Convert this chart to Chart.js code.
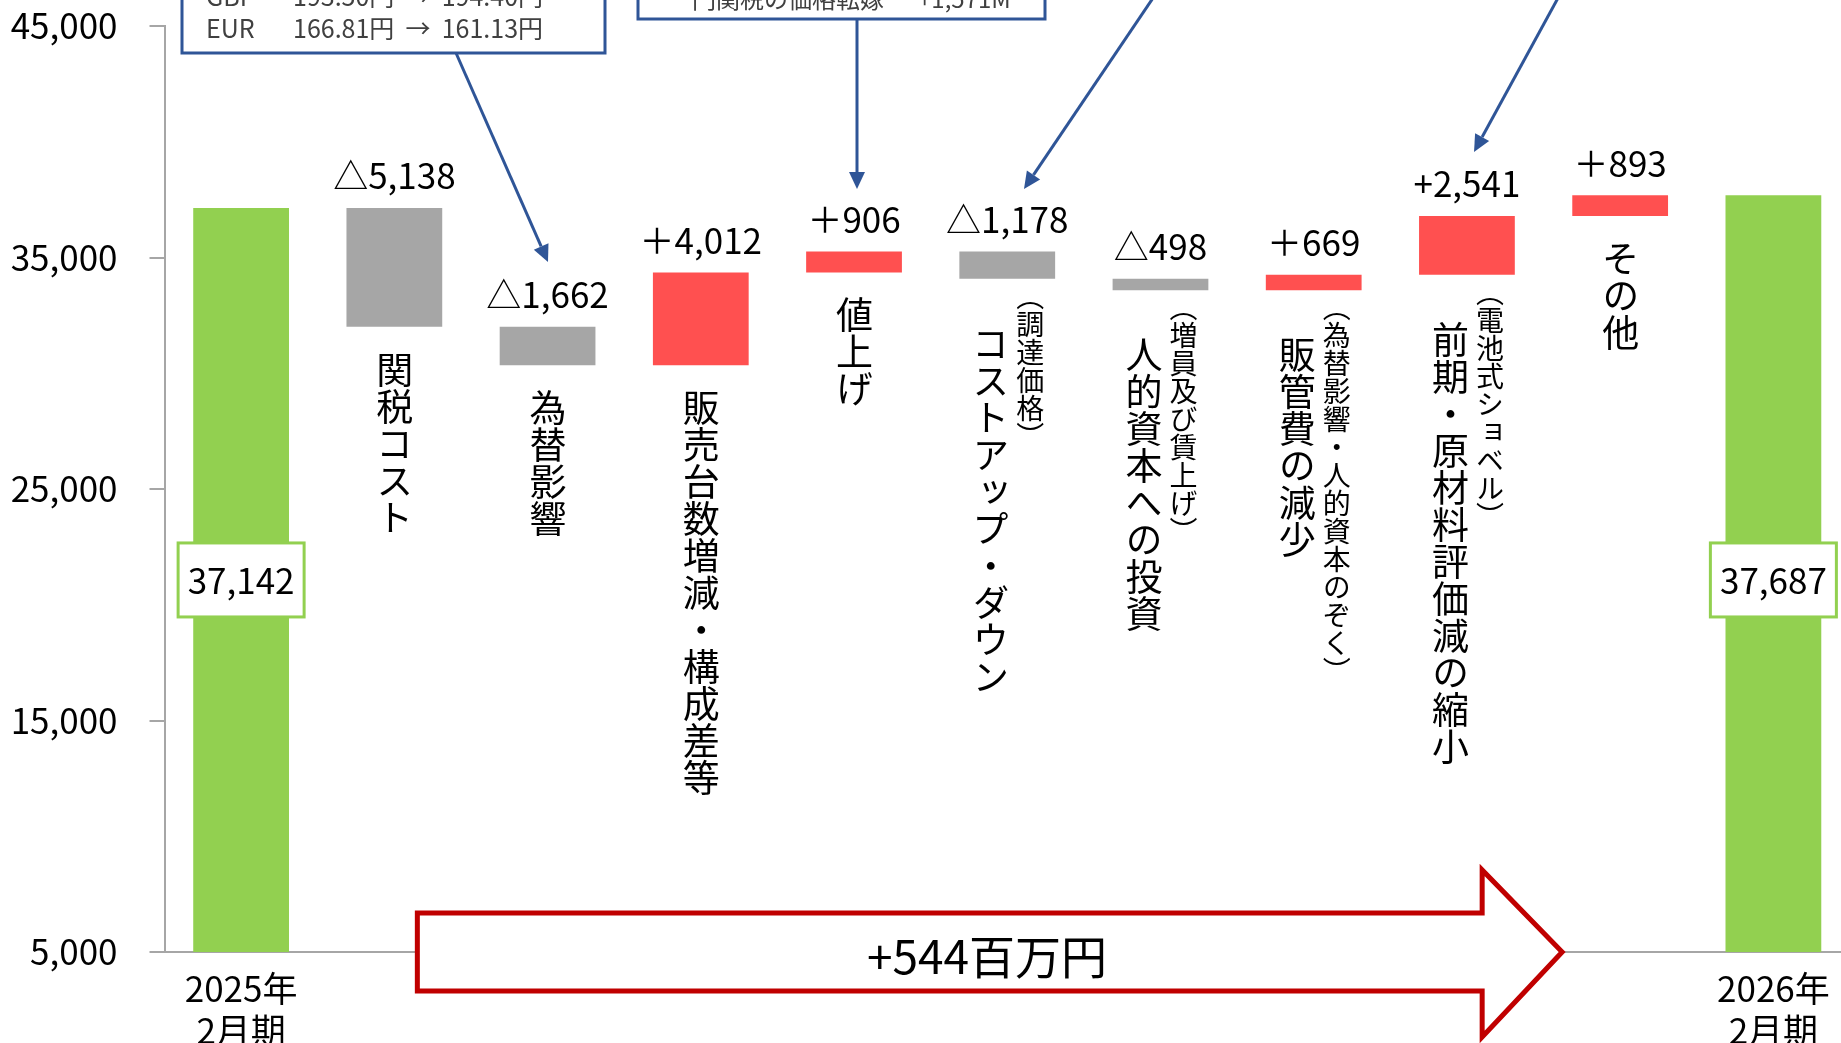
<!DOCTYPE html>
<html lang="ja">
<head>
<meta charset="utf-8">
<title>営業利益 増減要因</title>
<script src="https://cdn.jsdelivr.net/npm/chart.js@4.4.1/dist/chart.umd.min.js"></script>
<style>
  html, body { margin: 0; padding: 0; background: #fff; overflow: hidden; }
  #wrap { position: relative; width: 1852px; height: 1043px; }
  .vlabel {
    position: absolute;
    writing-mode: vertical-rl;
    font-family: "Noto Sans CJK JP", sans-serif;
    color: #000;
    line-height: 1;
    white-space: nowrap;
    transform: translateX(-50%);
  }
  .vlabel.main { font-size: 37px; }
  .vlabel.sub { font-size: 28px; }
</style>
</head>
<body>
<div id="wrap"><canvas id="myChart"></canvas></div>
<script>
// Kategorien (senkrecht beschriftet) und Zusatzhinweise in Klammern
const categories = ['2025年2月期', '関税コスト', '為替影響', '販売台数増減・構成差等', '値上げ',
  'コストアップ・ダウン', '人的資本への投資', '販管費の減少', '前期・原材料評価減の縮小', 'その他', '2026年2月期'];
const subNotes = ['', '', '', '', '', '（調達価格）', '（増員及び賃上げ）', '（為替影響・人的資本のぞく）', '（電池式ショベル）', '', ''];
const periodLabels = [['2025年', '2月期'], ['2026年', '2月期']];

// Werte (百万円)
const startValue = 37142;
const endValue = 37687;
const changes = [-5138, -1662, 4012, 906, -1178, -498, 669, 2541, 893];
const signMarks = ['△', '△', '＋', '＋', '△', '△', '＋', '+', '＋'];
const totalNote = '+544百万円';

// Achse
const yMin = 5000;
const yMax = 45000;
const yStep = 10000;

// Kommentarkästen oben (abgeschnitten)
const fxLines = [['GBP', '193.50円  →  194.40円'], ['EUR', '166.81円  →  161.13円']];
const priceNote = ['円関税の価格転嫁', '+1,571M'];

// Wasserfall aus den Werten aufbauen
const ranges = [[yMin, startValue]];
const colors = ['#92d050'];
let level = startValue;
changes.forEach(c => {
    const next = level + c;
    ranges.push([Math.min(level, next), Math.max(level, next)]);
    colors.push(c < 0 ? '#a6a6a6' : '#ff5050');
    level = next;
});
ranges.push([yMin, endValue]);
colors.push('#92d050');

const fmt = v => Math.abs(v).toLocaleString('en-US');
const FONT = '"Noto Sans CJK JP", sans-serif';

function arrow(ctx, x1, y1, x2, y2) {
    const a = Math.atan2(y2 - y1, x2 - x1);
    const len = 17, half = 8;
    const bx = x2 - len * Math.cos(a), by = y2 - len * Math.sin(a);
    ctx.beginPath();
    ctx.moveTo(x1, y1);
    ctx.lineTo(bx, by);
    ctx.stroke();
    ctx.beginPath();
    ctx.moveTo(x2, y2);
    ctx.lineTo(bx + half * Math.sin(a), by - half * Math.cos(a));
    ctx.lineTo(bx - half * Math.sin(a), by + half * Math.cos(a));
    ctx.closePath();
    ctx.fill();
}

// Werte an den Balken
const valueLabels = {
    id: 'valueLabels',
    afterDatasetsDraw(chart) {
        const ctx = chart.ctx;
        const bars = chart.getDatasetMeta(0).data;
        // beide Summenkästen auf gleicher Höhe
        const boxY = chart.scales.y.getPixelForValue((yMin + startValue) / 2);
        ctx.save();
        ctx.font = '35px ' + FONT;
        ctx.textAlign = 'center';
        ctx.textBaseline = 'middle';
        bars.forEach((bar, i) => {
            const top = Math.min(bar.y, bar.base);
            if (i === 0 || i === bars.length - 1) {
                const v = i === 0 ? startValue : endValue;
                ctx.fillStyle = '#fff';
                ctx.strokeStyle = '#92d050';
                ctx.lineWidth = 3;
                ctx.fillRect(bar.x - 63, boxY - 37, 126, 74);
                ctx.strokeRect(bar.x - 63, boxY - 37, 126, 74);
                ctx.fillStyle = '#000';
                ctx.fillText(fmt(v), bar.x, boxY + 1);
            } else {
                ctx.fillStyle = '#000';
                ctx.fillText(signMarks[i - 1] + fmt(changes[i - 1]), bar.x, top - 32);
            }
        });
        ctx.restore();
    }
};

// Pfeil unten und Kommentarkästen oben
const annotations = {
    id: 'annotations',
    afterDraw(chart) {
        const ctx = chart.ctx;
        const xs = chart.scales.x, ys = chart.scales.y;
        ctx.save();

        // großer Pfeil
        const x0 = xs.getPixelForValue(1) + 23;
        const tip = xs.getPixelForValue(9) - 58;
        const head = tip - 80;
        const cy = ys.getPixelForValue(yMin);
        ctx.beginPath();
        ctx.moveTo(x0, cy - 39);
        ctx.lineTo(head, cy - 39);
        ctx.lineTo(head, cy - 82);
        ctx.lineTo(tip, cy);
        ctx.lineTo(head, cy + 85);
        ctx.lineTo(head, cy + 39);
        ctx.lineTo(x0, cy + 39);
        ctx.closePath();
        ctx.fillStyle = '#fff';
        ctx.fill();
        ctx.strokeStyle = '#c00000';
        ctx.lineWidth = 5;
        ctx.lineJoin = 'miter';
        ctx.stroke();
        ctx.fillStyle = '#000';
        ctx.font = '46px ' + FONT;
        ctx.textAlign = 'center';
        ctx.textBaseline = 'middle';
        ctx.fillText(totalNote, 987, cy + 5);

        // Kästen
        ctx.strokeStyle = '#2f5597';
        ctx.fillStyle = '#2f5597';
        ctx.lineWidth = 3;
        ctx.strokeRect(182, -20, 423, 73);
        ctx.strokeRect(638, -20, 407, 39);
        arrow(ctx, 456, 53, 548, 262);
        arrow(ctx, 857, 19, 857, 189);
        arrow(ctx, 1153, -2, 1024, 189);
        arrow(ctx, 1558, -2, 1474, 152);

        ctx.fillStyle = '#404040';
        ctx.font = '25px ' + FONT;
        ctx.textAlign = 'left';
        ctx.textBaseline = 'alphabetic';
        fxLines.forEach((l, k) => {
            ctx.fillText(l[0], 206, 6 + k * 32);
            ctx.fillText(l[1], 293, 6 + k * 32);
        });
        ctx.font = '24px ' + FONT;
        ctx.fillText(priceNote[0], 692, 8);
        ctx.fillText(priceNote[1], 918, 8);
        ctx.restore();
    }
};

// senkrechte Beschriftungen unter den Balken
const verticalNames = {
    id: 'verticalNames',
    afterRender(chart) {
        const wrap = document.getElementById('wrap');
        const bars = chart.getDatasetMeta(0).data;
        categories.forEach((name, i) => {
            if (i === 0 || i === categories.length - 1) return;
            const bar = bars[i];
            const bottom = Math.max(bar.y, bar.base);
            let main = document.getElementById('vm' + i);
            if (!main) {
                main = document.createElement('div');
                main.id = 'vm' + i;
                main.className = 'vlabel main';
                main.textContent = name;
                wrap.appendChild(main);
            }
            if (subNotes[i]) {
                let sub = document.getElementById('vs' + i);
                if (!sub) {
                    sub = document.createElement('div');
                    sub.id = 'vs' + i;
                    sub.className = 'vlabel sub';
                    sub.textContent = subNotes[i];
                    wrap.appendChild(sub);
                }
                main.style.left = (bar.x - 17) + 'px';
                main.style.top = (bottom + 46) + 'px';
                sub.style.left = (bar.x + 23) + 'px';
                sub.style.top = (bottom + 3) + 'px';
            } else {
                main.style.left = bar.x + 'px';
                main.style.top = (bottom + 24) + 'px';
            }
        });
    }
};

Chart.defaults.font.family = FONT;
Chart.defaults.color = '#000';

var ctx = document.getElementById('myChart').getContext('2d');
var myChart = new Chart(ctx, {
    type: 'bar',
    data: {
        labels: categories,
        datasets: [{
            data: ranges,
            backgroundColor: colors,
            borderWidth: 0,
            barPercentage: 0.625,
            categoryPercentage: 1
        }]
    },
    options: {
        responsive: true,
        maintainAspectRatio: false,
        animation: false,
        layout: { padding: { top: 0, right: 2, bottom: 0, left: 0 } },
        plugins: {
            legend: { display: false },
            tooltip: { enabled: false }
        },
        scales: {
            x: {
                grid: { display: false },
                border: { display: true, color: '#a6a6a6', width: 2 },
                ticks: {
                    autoSkip: false,
                    maxRotation: 0,
                    minRotation: 0,
                    padding: 8,
                    font: { size: 35, lineHeight: 1.2 },
                    callback: (v, i) => i === 0 ? periodLabels[0] : (i === categories.length - 1 ? periodLabels[1] : '')
                },
                afterFit: s => { s.height = 91; }
            },
            y: {
                min: yMin,
                max: yMax,
                grid: { drawOnChartArea: false, drawTicks: true, tickLength: 15, color: '#a6a6a6', lineWidth: 2 },
                border: { display: true, color: '#a6a6a6', width: 2 },
                ticks: {
                    stepSize: yStep,
                    padding: 32,
                    font: { size: 35 },
                    callback: v => v.toLocaleString('en-US')
                },
                afterFit: s => { s.width = 164.5; s.paddingTop = 26; s.paddingBottom = 0; }
            }
        }
    },
    plugins: [valueLabels, annotations, verticalNames]
});
</script>
</body>
</html>
